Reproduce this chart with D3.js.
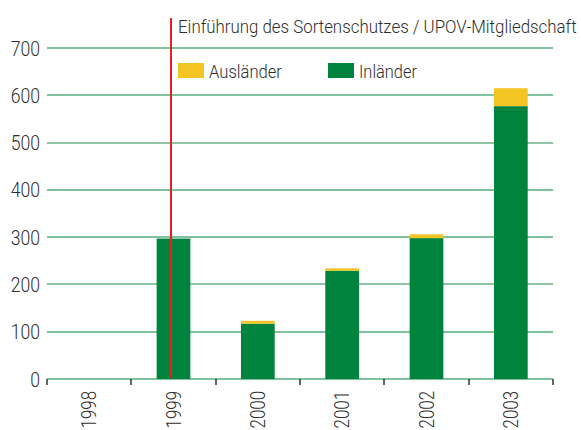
<!DOCTYPE html>
<html><head><meta charset="utf-8">
<script src="https://cdn.jsdelivr.net/npm/d3@7"></script>
<style>
body{margin:0;background:#fff;}
text{font-family:"Roboto","Liberation Sans",sans-serif;font-weight:300;fill:#2e2e2e;}
</style></head>
<body><svg id="c" width="581" height="430"></svg>
<script>
const years = ["1998","1999","2000","2001","2002","2003"];
const inlaender = [0, 297, 117, 229, 298, 577];
const auslaender = [0, 0, 6, 5, 8, 38];
const yTicks = [0,100,200,300,400,500,600,700];
const seriesNames = ["Ausländer","Inländer"];
const colors = {"Inländer":"#00843d","Ausländer":"#f2c524"};
const markerYear = "1999";
const markerLabel = "Einführung des Sortenschutzes / UPOV-Mitgliedschaft";

const svg = d3.select("#c");
const L=47, R=553, T=48, B=379;
const x = d3.scaleBand().domain(years).range([L,R]).paddingInner(0.6).paddingOuter(0.3);
const xb = d3.scaleBand().domain(years).range([L,R]);
const y = d3.scaleLinear().domain([0,700]).range([B,T]);

function ctext(parent, px, py, str, size, anchor, sx, rot){
  const g = parent.append("g").attr("transform",`translate(${px},${py})${rot?` rotate(${rot})`:""} scale(${sx},1)`);
  return g.append("text").attr("text-anchor",anchor).attr("font-size",size).text(str);
}
function ftext(parent, px, py, str, size, width, rot, anchor){
  const g = parent.append("g");
  const t = g.append("text").attr("font-size",size).attr("text-anchor",anchor||"start").text(str);
  const w = t.node().getComputedTextLength();
  g.attr("transform",`translate(${px},${py})${rot?` rotate(${rot})`:""} scale(${width/w},1)`);
  return t;
}

// gridlines
svg.append("g").selectAll("line").data(yTicks).join("line")
  .attr("x1",L).attr("x2",R)
  .attr("y1",d=>Math.round(y(d))).attr("y2",d=>Math.round(y(d)))
  .attr("stroke",d=>(d===500||d===200)?"#1f8a4c":"#7fc29d")
  .attr("stroke-width",d=>(d===500||d===200)?1:2);

// y labels
const gy = svg.append("g");
yTicks.forEach(d=>{ ctext(gy, 40, y(d)+7.5, String(d), 21, "end", 0.84); });

// ticks at band boundaries
const bounds = years.map(d=>xb(d)).concat([R]);
svg.append("g").selectAll("line").data(bounds).join("line")
  .attr("x1",d=>Math.round(d)).attr("x2",d=>Math.round(d)).attr("y1",B).attr("y2",B+6)
  .attr("stroke","#333").attr("stroke-width",1.5);

// stacked bars
const rows = years.map((yr,i)=>({year:yr,"Inländer":inlaender[i],"Ausländer":auslaender[i]}));
const stack = d3.stack().keys(["Inländer","Ausländer"])(rows);
svg.append("g").selectAll("g").data(stack).join("g")
  .attr("fill",s=>colors[s.key])
  .selectAll("rect").data(s=>s).join("rect")
  .attr("x",d=>x(d.data.year)).attr("width",x.bandwidth())
  .attr("y",d=>y(d[1])).attr("height",d=>y(d[0])-y(d[1]));

// x labels (rotated)
const gx = svg.append("g");
years.forEach(d=>{ ftext(gx, xb(d)+xb.bandwidth()/2+7, 391, d, 20, 37.5, -90, "end").attr("fill","#555"); });

// marker line
const mx = Math.round(xb(markerYear)+xb.bandwidth()/2-2);
svg.append("line").attr("x1",mx).attr("x2",mx).attr("y1",18).attr("y2",B-1)
  .attr("stroke","#ee1c25").attr("stroke-width",2);
ftext(svg, 178, 33, markerLabel, 19, 399);

// legend
const lg = svg.append("g");
const lx = [178,328];
const lw = [73,58];
seriesNames.forEach((n,i)=>{
  lg.append("rect").attr("x",lx[i]).attr("y",63).attr("width",26).attr("height",15).attr("fill",colors[n]);
  ftext(lg, lx[i]+31, 77.5, n, 19, lw[i]);
});
</script></body></html>
